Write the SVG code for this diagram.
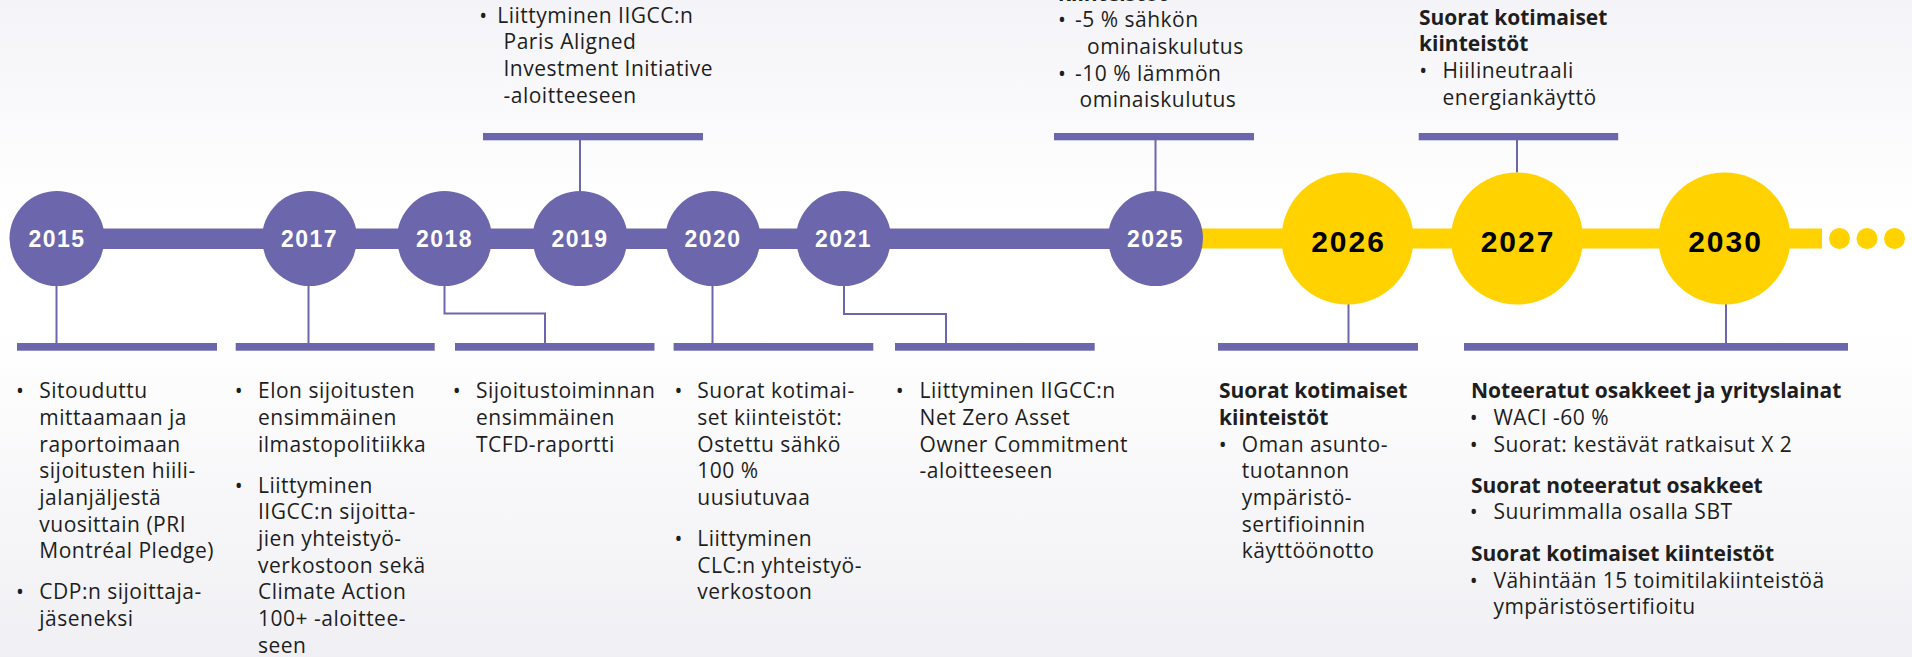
<svg xmlns="http://www.w3.org/2000/svg" width="1912" height="657" viewBox="0 0 1912 657">
<defs>
<linearGradient id="bg" x1="0" y1="0" x2="0" y2="1">
<stop offset="0" stop-color="#f4f4f8"/>
<stop offset="0.33" stop-color="#ffffff"/>
<stop offset="0.5" stop-color="#ffffff"/>
<stop offset="1" stop-color="#f0f0f4"/>
</linearGradient>
<style>
.t{font-family:"Open Sans","Liberation Sans",sans-serif;font-size:21px;letter-spacing:0.5px;fill:#1e1e1e}
.h{font-family:"Open Sans","Liberation Sans",sans-serif;font-size:21px;font-weight:700;fill:#1e1e1e}
.bu{font-family:"Open Sans","Liberation Sans",sans-serif;font-size:21px;fill:#1e1e1e;text-anchor:middle}
.yp{font-family:"Liberation Sans",Arial,sans-serif;font-size:23px;font-weight:700;letter-spacing:1.5px;fill:#ffffff;text-anchor:middle}
.yy{font-family:"Liberation Sans",Arial,sans-serif;font-size:30px;font-weight:700;letter-spacing:2px;fill:#000000;text-anchor:middle}
.pc{fill:#6c66ac}
.yc{fill:#ffd200}
.br{fill:#6c66ac}
.ln{fill:none;stroke:#6c66ac;stroke-width:2}
</style>
</defs>
<rect x="0" y="0" width="1912" height="657" fill="url(#bg)"/>

<g id="timeline">
<rect x="1150" y="228.5" width="672" height="20" class="yc"/>
<rect x="57" y="228.5" width="1100" height="20.5" class="pc"/>
<circle cx="1839.5" cy="238.5" r="10.5" class="yc"/>
<circle cx="1867" cy="238.5" r="10.5" class="yc"/>
<circle cx="1894.5" cy="238.5" r="10.5" class="yc"/>
</g>

<g id="connectors">
<path class="ln" d="M580 140 V191"/>
<path class="ln" d="M1155.5 140 V191"/>
<path class="ln" d="M1517 140 V172.5"/>
<path class="ln" d="M56.5 286 V343"/>
<path class="ln" d="M308.5 286 V343"/>
<path class="ln" d="M444.5 286 V313.5 H545 V343"/>
<path class="ln" d="M712.5 286 V343"/>
<path class="ln" d="M844 286 V314 H946 V343"/>
<path class="ln" d="M1348.5 304 V343"/>
<path class="ln" d="M1726 304 V343"/>
</g>

<g id="n2015">
<circle cx="57" cy="238.5" r="47.5" class="pc"/>
<text x="57" y="246.8" class="yp">2015</text>
<rect x="17" y="343" width="200" height="7.7" class="br"/>
<text class="bu" x="20" y="398.3">•</text>
<text class="t"><tspan x="39.3" y="398.3">Sitouduttu</tspan><tspan x="39.3" y="425">mittaamaan ja</tspan><tspan x="39.3" y="451.7">raportoimaan</tspan><tspan x="39.3" y="478.3">sijoitusten hiili-</tspan><tspan x="39.3" y="505">jalanjäljestä</tspan><tspan x="39.3" y="531.7">vuosittain (PRI</tspan><tspan x="39.3" y="558.3">Montréal Pledge)</tspan></text>
<text class="bu" x="20" y="599.3">•</text>
<text class="t"><tspan x="39.3" y="599.3">CDP:n sijoittaja-</tspan><tspan x="39.3" y="626">jäseneksi</tspan></text>
</g>

<g id="n2017">
<circle cx="309.5" cy="238.5" r="47.5" class="pc"/>
<text x="309.5" y="246.8" class="yp">2017</text>
<rect x="235.7" y="343" width="199" height="7.7" class="br"/>
<text class="bu" x="238.8" y="398.3">•</text>
<text class="t"><tspan x="258" y="398.3">Elon sijoitusten</tspan><tspan x="258" y="425">ensimmäinen</tspan><tspan x="258" y="451.7">ilmastopolitiikka</tspan></text>
<text class="bu" x="238.8" y="492.7">•</text>
<text class="t"><tspan x="258" y="492.7">Liittyminen</tspan><tspan x="258" y="519.3">IIGCC:n sijoitta-</tspan><tspan x="258" y="546">jien yhteistyö-</tspan><tspan x="258" y="572.7">verkostoon sekä</tspan><tspan x="258" y="599.3">Climate Action</tspan><tspan x="258" y="626">100+ -aloittee-</tspan><tspan x="258" y="652.7">seen</tspan></text>
</g>

<g id="n2018">
<circle cx="444.5" cy="238.5" r="47.5" class="pc"/>
<text x="444.5" y="246.8" class="yp">2018</text>
<rect x="455" y="343" width="199.5" height="7.7" class="br"/>
<text class="bu" x="456.7" y="398.3">•</text>
<text class="t"><tspan x="476" y="398.3">Sijoitustoiminnan</tspan><tspan x="476" y="425">ensimmäinen</tspan><tspan x="476" y="451.7">TCFD-raportti</tspan></text>
</g>

<g id="n2019">
<circle cx="580" cy="238.5" r="47.5" class="pc"/>
<text x="580" y="246.8" class="yp">2019</text>
<rect x="483" y="133" width="220" height="7.3" class="br"/>
<text class="bu" x="483.3" y="22.7">•</text>
<text class="t"><tspan x="497.3" y="22.7">Liittyminen IIGCC:n</tspan><tspan x="503.5" y="49.3">Paris Aligned</tspan><tspan x="503.5" y="76">Investment Initiative</tspan><tspan x="503.5" y="102.7">-aloitteeseen</tspan></text>
</g>

<g id="n2020">
<circle cx="713" cy="238.5" r="47.5" class="pc"/>
<text x="713" y="246.8" class="yp">2020</text>
<rect x="673.6" y="343" width="199.7" height="7.7" class="br"/>
<text class="bu" x="678.4" y="398.3">•</text>
<text class="t"><tspan x="697.3" y="398.3">Suorat kotimai-</tspan><tspan x="697.3" y="425">set kiinteistöt:</tspan><tspan x="697.3" y="451.7">Ostettu sähkö</tspan><tspan x="697.3" y="478.3">100 %</tspan><tspan x="697.3" y="505">uusiutuvaa</tspan></text>
<text class="bu" x="678.4" y="546">•</text>
<text class="t"><tspan x="697.3" y="546">Liittyminen</tspan><tspan x="697.3" y="572.7">CLC:n yhteistyö-</tspan><tspan x="697.3" y="599.3">verkostoon</tspan></text>
</g>

<g id="n2021">
<circle cx="843.5" cy="238.5" r="47.5" class="pc"/>
<text x="843.5" y="246.8" class="yp">2021</text>
<rect x="895" y="343" width="199.7" height="7.7" class="br"/>
<text class="bu" x="899.8" y="398.3">•</text>
<text class="t"><tspan x="919.6" y="398.3">Liittyminen IIGCC:n</tspan><tspan x="919.6" y="425">Net Zero Asset</tspan><tspan x="919.6" y="451.7">Owner Commitment</tspan><tspan x="919.6" y="478.3">-aloitteeseen</tspan></text>
</g>

<g id="n2025">
<circle cx="1155.5" cy="238.5" r="47.5" class="pc"/>
<text x="1155.5" y="246.8" class="yp">2025</text>
<rect x="1054" y="133" width="200" height="7.3" class="br"/>
<text class="h" x="1058" y="0.8">kiinteistöt</text>
<text class="bu" x="1062" y="27.3">•</text>
<text class="t"><tspan x="1075" y="27.3">-5 % sähkön</tspan><tspan x="1087" y="54">ominaiskulutus</tspan></text>
<text class="bu" x="1062" y="80.7">•</text>
<text class="t"><tspan x="1075" y="80.7">-10 % lämmön</tspan><tspan x="1079.6" y="107.3">ominaiskulutus</tspan></text>
</g>

<g id="n2026">
<circle cx="1347.5" cy="238.5" r="66" class="yc"/>
<text x="1348.5" y="251.7" class="yy">2026</text>
<rect x="1218" y="343" width="200" height="7.7" class="br"/>
<text class="h"><tspan x="1219" y="398.3">Suorat kotimaiset</tspan><tspan x="1219" y="425">kiinteistöt</tspan></text>
<text class="bu" x="1222.7" y="451.7">•</text>
<text class="t"><tspan x="1241.8" y="451.7">Oman asunto-</tspan><tspan x="1241.8" y="478.3">tuotannon</tspan><tspan x="1241.8" y="505">ympäristö-</tspan><tspan x="1241.8" y="531.7">sertifioinnin</tspan><tspan x="1241.8" y="558.3">käyttöönotto</tspan></text>
</g>

<g id="n2027">
<circle cx="1517" cy="238.5" r="66" class="yc"/>
<text x="1518" y="251.7" class="yy">2027</text>
<rect x="1418.7" y="133" width="199.5" height="7.3" class="br"/>
<text class="h"><tspan x="1419" y="25">Suorat kotimaiset</tspan><tspan x="1419" y="51.3">kiinteistöt</tspan></text>
<text class="bu" x="1423.3" y="78">•</text>
<text class="t"><tspan x="1442.5" y="78">Hiilineutraali</tspan><tspan x="1442.5" y="104.5">energiankäyttö</tspan></text>
</g>

<g id="n2030">
<circle cx="1724.5" cy="238.5" r="66" class="yc"/>
<text x="1725.5" y="251.7" class="yy">2030</text>
<rect x="1464" y="343" width="384" height="7.7" class="br"/>
<text class="h" x="1471" y="398.3">Noteeratut osakkeet ja yrityslainat</text>
<text class="bu" x="1473.8" y="425">•</text>
<text class="t" x="1493.4" y="425">WACI -60 %</text>
<text class="bu" x="1473.8" y="451.7">•</text>
<text class="t" x="1493.4" y="451.7">Suorat: kestävät ratkaisut X 2</text>
<text class="h" x="1471" y="492.7">Suorat noteeratut osakkeet</text>
<text class="bu" x="1473.8" y="519.3">•</text>
<text class="t" x="1493.4" y="519.3">Suurimmalla osalla SBT</text>
<text class="h" x="1471" y="561">Suorat kotimaiset kiinteistöt</text>
<text class="bu" x="1473.8" y="587.7">•</text>
<text class="t"><tspan x="1493.4" y="587.7">Vähintään 15 toimitilakiinteistöä</tspan><tspan x="1493.4" y="614.3">ympäristösertifioitu</tspan></text>
</g>
</svg>
